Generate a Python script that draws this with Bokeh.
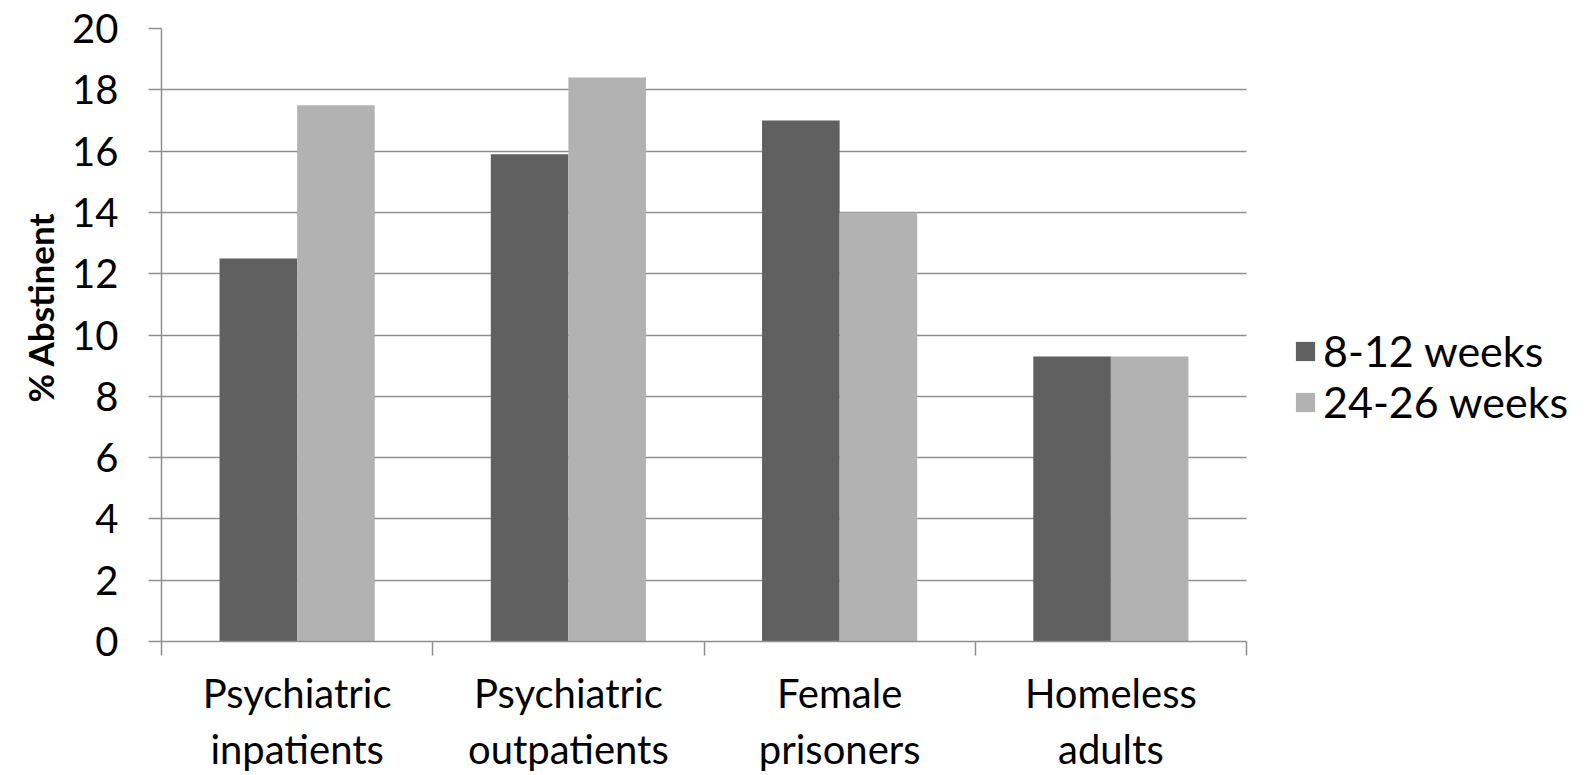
from bokeh.plotting import figure
from bokeh.models import Range1d, FixedTicker, Legend, LegendItem, ColumnDataSource, Title
from bokeh.embed import file_html
from bokeh.resources import INLINE

categories = ["Psychiatric\ninpatients", "Psychiatric\noutpatients", "Female\nprisoners", "Homeless\nadults"]
weeks_8_12 = [12.5, 15.9, 17.0, 9.3]
weeks_24_26 = [17.5, 18.4, 14.0, 9.3]
series_names = ["8-12 weeks", "24-26 weeks"]
y_ticks = [0, 2, 4, 6, 8, 10, 12, 14, 16, 18, 20]

FONT = "Lato"
DARK = "#606060"
LIGHT = "#b2b2b2"
GRID = "#8e8e8e"
BW = 0.286

n = len(categories)
# frame spans to the right edge so the legend can live inside it;
# axis and grid are bounded to the category area
x_end = n * (1591 - 161) / 1085.0

centers = [i + 0.5 for i in range(n)]
src1 = ColumnDataSource(dict(x=[c - BW / 2 for c in centers], top=weeks_8_12))
src2 = ColumnDataSource(dict(x=[c + BW / 2 for c in centers], top=weeks_24_26))

p = figure(width=1591, height=775, output_backend="svg", toolbar_location=None,
           x_range=Range1d(0, x_end), y_range=Range1d(0, 20))
p.min_border_left = 161
p.min_border_right = 0
p.min_border_top = 28
p.min_border_bottom = 0
p.outline_line_color = None
p.background_fill_color = "white"
p.border_fill_color = "white"

r1 = p.vbar(x="x", top="top", width=BW, source=src1, fill_color=DARK, line_color=None)
r2 = p.vbar(x="x", top="top", width=BW, source=src2, fill_color=LIGHT, line_color=None)

# y axis
ya = p.yaxis[0]
ya.ticker = FixedTicker(ticks=y_ticks, minor_ticks=[])
ya.axis_line_color = GRID
ya.axis_line_width = 1.5
ya.major_tick_line_color = GRID
ya.major_tick_line_width = 1.5
ya.major_tick_out = 13
ya.major_tick_in = 0
ya.minor_tick_line_color = None
ya.major_label_text_font = FONT
ya.major_label_text_font_size = "40px"
ya.major_label_text_color = "black"
ya.major_label_standoff = 30

p.add_layout(Title(text="% Abstinent", align="left", offset=239,
                   text_font=FONT, text_font_size="35px", text_font_style="bold",
                   text_color="black", standoff=17), "left")

# x axis
xa = p.xaxis[0]
xa.bounds = (0, n)
xa.ticker = FixedTicker(ticks=centers, minor_ticks=list(range(n + 1)))
xa.major_label_overrides = {c: lab for c, lab in zip(centers, categories)}
xa.axis_line_color = GRID
xa.axis_line_width = 1.5
xa.major_tick_line_color = None
xa.major_tick_out = 0
xa.major_tick_in = 0
xa.minor_tick_line_color = GRID
xa.minor_tick_line_width = 1.5
xa.minor_tick_out = 14
xa.minor_tick_in = 0
xa.major_label_text_font = FONT
xa.major_label_text_font_size = "40px"
xa.major_label_text_line_height = 1.17
xa.major_label_text_color = "black"
xa.major_label_standoff = 13

p.xgrid.grid_line_color = None
p.ygrid.ticker = FixedTicker(ticks=y_ticks)
p.ygrid.grid_line_color = GRID
p.ygrid.grid_line_width = 1.5
p.ygrid.cross_bounds = (0, n)

legend = Legend(items=[LegendItem(label=series_names[0], renderers=[r1]),
                       LegendItem(label=series_names[1], renderers=[r2])],
                location=(1132, 214), orientation="vertical")
legend.border_line_color = None
legend.background_fill_alpha = 0
legend.label_text_font = FONT
legend.label_text_font_size = "43px"
legend.label_text_color = "black"
legend.glyph_width = 24
legend.glyph_height = 24
legend.label_height = 47
legend.label_standoff = 6
legend.spacing = 0
legend.padding = 0
legend.margin = 0
p.add_layout(legend)

open("out.html", "w").write(file_html(p, INLINE))
